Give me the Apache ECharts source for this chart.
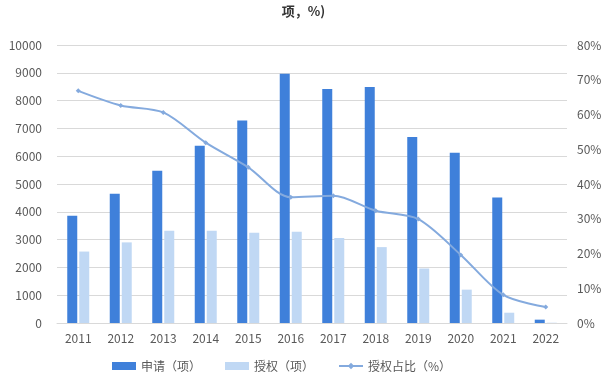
<!DOCTYPE html>
<html><head><meta charset="utf-8">
<script src="https://cdn.jsdelivr.net/npm/echarts@6/dist/echarts.min.js"></script>
<style>html,body{margin:0;padding:0;background:#fff}#c{width:607px;height:391px}</style>
</head><body><div id="c"></div>
<script>
const years = ['2011','2012','2013','2014','2015','2016','2017','2018','2019','2020','2021','2022'];
const applied = [3860, 4650, 5480, 6380, 7280, 8970, 8420, 8490, 6690, 6120, 4510, 120];
const granted = [2570, 2900, 3320, 3320, 3250, 3280, 3060, 2730, 1960, 1200, 370, 10];
const grantRatio = [66.8, 62.6, 60.6, 51.9, 44.8, 36.2, 36.6, 32.3, 29.9, 19.6, 8.1, 4.6];
const seriesNames = ['申请（项）', '授权（项）', '授权占比（%）'];
const titleText = '项，%)';

const chart = echarts.init(document.getElementById('c'), null, {renderer: 'canvas'});
const font = '"Microsoft YaHei","Noto Sans CJK SC","Noto Sans",sans-serif';
chart.setOption({
  animation: false,
  title: {text: titleText, left: 'center', top: 0,
    textStyle: {fontSize: 13, fontWeight: 'bold', color: '#333', fontFamily: font}},
  legend: {
    bottom: 14, left: 107, itemGap: 24, itemWidth: 24, itemHeight: 8,
    textStyle: {color: '#595959', fontSize: 12, fontFamily: font},
    data: [
      {name: seriesNames[0], icon: 'rect'},
      {name: seriesNames[1], icon: 'rect'},
      {name: seriesNames[2]}
    ]
  },
  grid: {left: 57, right: 40, top: 45, bottom: 68},
  xAxis: {
    type: 'category', data: years,
    axisLine: {lineStyle: {color: '#d9d9d9'}},
    axisTick: {show: false},
    axisLabel: {color: '#595959', fontSize: 12, margin: 9, fontFamily: font}
  },
  yAxis: [
    {type: 'value', min: 0, max: 10000, interval: 1000,
      axisLine: {show: false}, axisTick: {show: false},
      axisLabel: {color: '#595959', fontSize: 12, margin: 15, fontFamily: font,
        formatter: function (v) { return String(v); }},
      splitLine: {lineStyle: {color: '#d9d9d9'}}},
    {type: 'value', min: 0, max: 80, interval: 10,
      axisLine: {show: false}, axisTick: {show: false},
      axisLabel: {color: '#595959', fontSize: 12, margin: 10, formatter: '{value}%', fontFamily: font},
      splitLine: {show: false}}
  ],
  series: [
    {name: seriesNames[0], type: 'bar', data: applied, barWidth: 10, barGap: '20%',
      itemStyle: {color: '#3f80da'}},
    {name: seriesNames[1], type: 'bar', data: granted, barWidth: 10,
      itemStyle: {color: '#c0d8f4'}},
    {name: seriesNames[2], type: 'line', yAxisIndex: 1, data: grantRatio, smooth: 0.3,
      symbol: 'diamond', symbolSize: 5,
      lineStyle: {color: '#84aade', width: 2},
      itemStyle: {color: '#84aade'}}
  ]
});
</script></body></html>
